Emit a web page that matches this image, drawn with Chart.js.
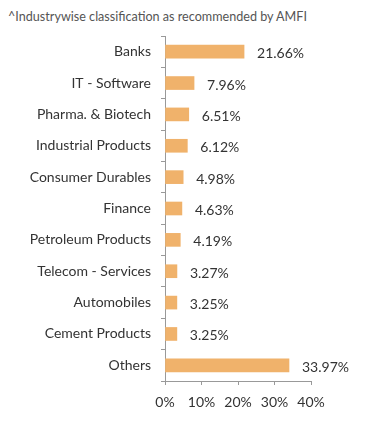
<!DOCTYPE html>
<html>
<head>
<meta charset="utf-8">
<script src="https://cdn.jsdelivr.net/npm/chart.js@4/dist/chart.umd.min.js"></script>
<style>
  html, body { margin: 0; padding: 0; background: #fff; }
  #wrap { position: relative; width: 391px; height: 434px; }
  #note {
    position: absolute; left: 8px; top: 9px;
    font-family: "Lato", sans-serif; font-size: 12.6px; color: #555;
  }
  canvas { position: absolute; left: 0; top: 0; }
</style>
</head>
<body>
<div id="wrap">
  <div id="note">^Industrywise classification as recommended by AMFI</div>
  <canvas id="sectorChart" width="391" height="434"></canvas>
</div>
<script>
const industries = [
  "Banks", "IT - Software", "Pharma. & Biotech", "Industrial Products",
  "Consumer Durables", "Finance", "Petroleum Products", "Telecom - Services",
  "Automobiles", "Cement Products", "Others"
];
const weights = [21.66, 7.96, 6.51, 6.12, 4.98, 4.63, 4.19, 3.27, 3.25, 3.25, 33.97];
const xTicks = [0, 10, 20, 30, 40];

// draws the percentage after each bar
const valueLabels = {
  id: "valueLabels",
  afterDatasetsDraw(chart) {
    const ctx = chart.ctx;
    const meta = chart.getDatasetMeta(0);
    ctx.save();
    ctx.font = "14px Lato, sans-serif";
    ctx.fillStyle = "#333";
    ctx.textAlign = "left";
    ctx.textBaseline = "middle";
    meta.data.forEach((bar, i) => {
      ctx.fillText(weights[i].toFixed(2) + "%", bar.x + 13, bar.y + 2);
    });
    ctx.restore();
  }
};

const ctx = document.getElementById("sectorChart").getContext("2d");
new Chart(ctx, {
  type: "bar",
  data: {
    labels: industries,
    datasets: [{
      data: weights,
      backgroundColor: "#F0B26B",
      barThickness: 13
    }]
  },
  options: {
    indexAxis: "y",
    responsive: false,
    animation: false,
    layout: { padding: { top: 36, right: 80, bottom: 0, left: 0 } },
    plugins: {
      legend: { display: false },
      tooltip: { enabled: false }
    },
    scales: {
      x: {
        min: 0,
        max: 40,
        afterBuildTicks: scale => { scale.ticks = xTicks.map(v => ({ value: v })); },
        afterFit: scale => { scale.height = 53; },
        grid: { drawOnChartArea: false, tickLength: 4, color: "#999" },
        border: { color: "#999" },
        ticks: {
          color: "#333",
          font: { family: "Lato", size: 14 },
          padding: 9,
          callback: v => v + "%"
        }
      },
      y: {
        afterFit: scale => { scale.width = 165; },
        grid: { drawOnChartArea: false, offset: true, tickLength: 4, color: "#999" },
        border: { color: "#999" },
        ticks: {
          color: "#333",
          font: { family: "Lato", size: 14 },
          padding: 10
        }
      }
    }
  },
  plugins: [valueLabels]
});
</script>
</body>
</html>
